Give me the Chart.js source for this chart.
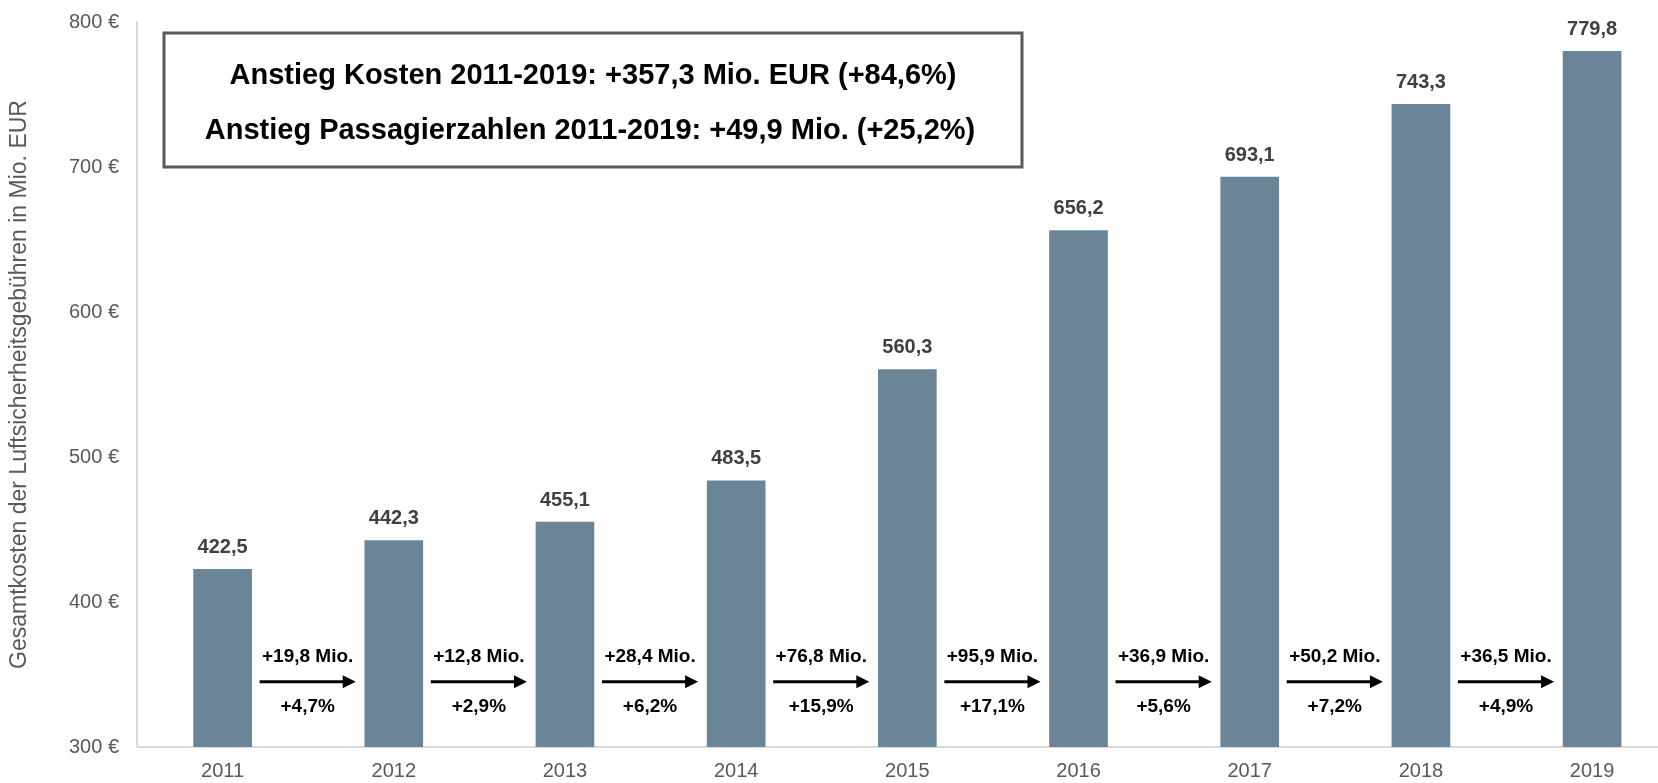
<!DOCTYPE html>
<html>
<head>
<meta charset="utf-8">
<script src="https://cdn.jsdelivr.net/npm/chart.js@4/dist/chart.umd.min.js"></script>
<style>
  html, body { margin: 0; padding: 0; background: #fff; overflow: hidden; }
  #wrap { width: 1658px; height: 783px; position: relative; }
</style>
</head>
<body>
<div id="wrap"><canvas id="myChart"></canvas></div>
<script>
const years = [2011, 2012, 2013, 2014, 2015, 2016, 2017, 2018, 2019]
const costs = [422.5, 442.3, 455.1, 483.5, 560.3, 656.2, 693.1, 743.3, 779.8]
const diffMio = [19.8, 12.8, 28.4, 76.8, 95.9, 36.9, 50.2, 36.5]
const diffPct = [4.7, 2.9, 6.2, 15.9, 17.1, 5.6, 7.2, 4.9]
const yTicks = [300, 400, 500, 600, 700, 800]
const boxLines = [
    'Anstieg Kosten 2011-2019: +357,3 Mio. EUR (+84,6%)',
    'Anstieg Passagierzahlen 2011-2019: +49,9 Mio. (+25,2%)'
]

const FONT = "'Liberation Sans', Arial, sans-serif"
const de = n => n.toFixed(1).replace('.', ',')

const annotations = {
    id: 'annotations',
    afterDatasetsDraw(chart) {
        const ctx = chart.ctx
        const y = chart.scales.y
        const bars = chart.getDatasetMeta(0).data

        ctx.save()
        ctx.textAlign = 'center'
        ctx.textBaseline = 'middle'

        // values over the bars
        ctx.fillStyle = '#404040'
        ctx.font = `bold 20px ${FONT}`
        bars.forEach((bar, i) => {
            ctx.fillText(de(costs[i]), bar.x, bar.y - 22)
        })

        // arrows between the bars
        const ay = y.getPixelForValue(345)
        ctx.fillStyle = '#000'
        ctx.strokeStyle = '#000'
        ctx.lineWidth = 3
        ctx.font = `bold 19px ${FONT}`
        for (let i = 0; i < diffMio.length; i++) {
            const x0 = bars[i].x + bars[i].width / 2 + 8
            const x1 = bars[i + 1].x - bars[i + 1].width / 2 - 9
            ctx.beginPath()
            ctx.moveTo(x0, ay)
            ctx.lineTo(x1 - 12, ay)
            ctx.stroke()
            ctx.beginPath()
            ctx.moveTo(x1, ay)
            ctx.lineTo(x1 - 13, ay - 6.5)
            ctx.lineTo(x1 - 13, ay + 6.5)
            ctx.closePath()
            ctx.fill()
            const cx = (x0 + x1) / 2
            ctx.fillText(`+${de(diffMio[i])} Mio.`, cx, ay - 25)
            ctx.fillText(`+${de(diffPct[i])}%`, cx, ay + 25)
        }

        // summary box
        const bx = 164, by = 33, bw = 858, bh = 134
        ctx.fillStyle = '#fff'
        ctx.fillRect(bx, by, bw, bh)
        ctx.strokeStyle = '#595959'
        ctx.lineWidth = 3
        ctx.strokeRect(bx, by, bw, bh)
        ctx.fillStyle = '#000'
        ctx.font = `bold 29px ${FONT}`
        ctx.fillText(boxLines[0], bx + bw / 2, 76)
        ctx.fillText(boxLines[1], bx + bw / 2 - 3, 131)

        ctx.restore()
    }
}

const ctx = document.getElementById('myChart')

const myChart = new Chart(ctx, {
    type: 'bar',
    data: {
        datasets: [{
            data: years.map((yr, i) => ({x: yr, y: costs[i]})),
            backgroundColor: '#6a8597',
            barThickness: 58
        }]
    },
    options: {
        responsive: true,
        maintainAspectRatio: false,
        animation: false,
        layout: {padding: {top: 22, right: 0, bottom: -12, left: 0}},
        plugins: {
            legend: {display: false},
            tooltip: {enabled: false}
        },
        scales: {
            x: {
                type: 'linear',
                offset: false,
                min: 2010.5,
                max: 2019.385,
                grid: {display: false, drawTicks: false},
                border: {color: '#d9d9d9', width: 2},
                afterBuildTicks: scale => {
                    scale.ticks = years.map(v => ({value: v}))
                },
                ticks: {
                    callback: v => String(v),
                    color: '#595959',
                    font: {family: FONT, size: 20},
                    padding: 12
                }
            },
            y: {
                min: 300,
                max: 800,
                grid: {display: false, drawTicks: false},
                border: {color: '#d9d9d9', width: 2},
                afterBuildTicks: scale => {
                    scale.ticks = yTicks.map(v => ({value: v}))
                },
                afterFit: scale => {
                    scale.width = 137
                    scale.paddingTop = 0
                    scale.paddingBottom = 0
                },
                ticks: {
                    callback: v => v + ' €',
                    color: '#595959',
                    font: {family: FONT, size: 20},
                    padding: 18
                },
                title: {
                    display: true,
                    text: 'Gesamtkosten der Luftsicherheitsgebühren in Mio. EUR',
                    color: '#595959',
                    font: {family: FONT, size: 23},
                    padding: {top: 6, bottom: 0}
                }
            }
        }
    },
    plugins: [annotations]
});
</script>
</body>
</html>
